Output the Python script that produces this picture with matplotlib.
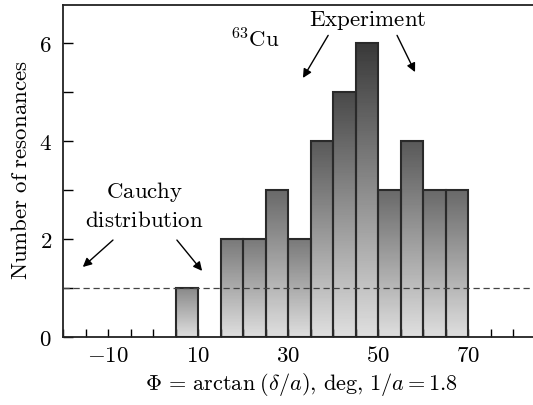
import numpy as np
import matplotlib
matplotlib.use("Agg")
import matplotlib.pyplot as plt
from matplotlib.ticker import MultipleLocator, FixedLocator, NullFormatter

plt.rcParams['mathtext.fontset'] = 'cm'
plt.rcParams['font.family'] = 'serif'

# --- datos del histograma ---
bin_left = [5, 15, 20, 25, 30, 35, 40, 45, 50, 55, 60, 65]
counts = [1, 2, 2, 3, 2, 4, 5, 6, 3, 4, 3, 3]
bin_width = 5
cauchy_level = 1.0

xtick_pos = [-10, 10, 30, 50, 70]
xtick_lab = [r'$-10$', r'$10$', r'$30$', r'$50$', r'$70$']
ytick_pos = [0, 2, 4, 6]
ytick_lab = [r'$0$', r'$2$', r'$4$', r'$6$']

fig = plt.figure(figsize=(5.33, 4.05), dpi=100)
ax = fig.add_axes([63/533, 68/405, 470/533, 332/405])

fs = 16.5

# barras con degradado (oscuro arriba, claro abajo)
for x0, h in zip(bin_left, counts):
    top = (138 - 16 * (h - 1)) / 255.0
    bottom = 0.87
    grad = np.linspace(top, bottom, 64).reshape(-1, 1)
    ax.imshow(grad, cmap='gray', vmin=0, vmax=1, aspect='auto',
              extent=[x0, x0 + bin_width, 0, h], origin='upper',
              interpolation='bilinear', zorder=1)
    ax.bar(x0, h, width=bin_width, align='edge', facecolor='none',
           edgecolor='#2a2a2a', linewidth=1.5, zorder=2)

ax.axhline(cauchy_level, color='#444444', lw=0.9, ls=(0, (5, 3)), zorder=3)

ax.set_xlim(-20, 84.4)
ax.set_ylim(0, 6.78)

ax.xaxis.set_major_locator(FixedLocator(xtick_pos))
ax.set_xticklabels(xtick_lab)
ax.xaxis.set_minor_locator(MultipleLocator(5))
ax.xaxis.set_minor_formatter(NullFormatter())
ax.yaxis.set_major_locator(FixedLocator(ytick_pos))
ax.set_yticklabels(ytick_lab)
ax.yaxis.set_minor_locator(MultipleLocator(1))

ax.tick_params(axis='x', which='both', direction='in', length=6, width=1.0,
               labelsize=fs, pad=6, top=False)
ax.tick_params(axis='y', which='both', direction='in', length=7, width=1.0,
               labelsize=fs, pad=8, right=False)

ax.spines['right'].set_visible(False)
for s in ['left', 'bottom', 'top']:
    ax.spines[s].set_linewidth(1.3)
    ax.spines[s].set_color('#222222')

# textos y flechas
ax.text(22.6, 6.06, r'$^{63}\mathrm{Cu}$', fontsize=fs, ha='center', va='center')
ax.text(47.6, 6.47, r'$\mathrm{Experiment}$', fontsize=fs, ha='center', va='center')
ax.text(-1.8, 2.96, r'$\mathrm{Cauchy}$', fontsize=fs, ha='center', va='center')
ax.text(-2.0, 2.37, r'$\mathrm{distribution}$', fontsize=fs, ha='center', va='center')

arrow = dict(arrowstyle='-|>', color='black', lw=1.0, mutation_scale=13,
             shrinkA=0, shrinkB=0)
ax.annotate('', xy=(33.3, 5.29), xytext=(38.9, 6.16), arrowprops=arrow)
ax.annotate('', xy=(58.2, 5.41), xytext=(54.2, 6.16), arrowprops=arrow)
ax.annotate('', xy=(-15.6, 1.43), xytext=(-8.9, 1.98), arrowprops=arrow)
ax.annotate('', xy=(10.9, 1.35), xytext=(5.3, 1.98), arrowprops=arrow)

fig.text(302/533, 1 - 385/405,
         r'$\Phi\,=\,\mathrm{arctan}\;(\delta/a),\,\mathrm{deg},\,1/a=1.8$',
         fontsize=16, ha='center', va='center')
fig.text(21/533, 1 - 170/405, r'$\mathrm{Number\ of\ resonances}$',
         fontsize=fs, ha='center', va='center', rotation=90)

fig.savefig('out.png', dpi=100)
